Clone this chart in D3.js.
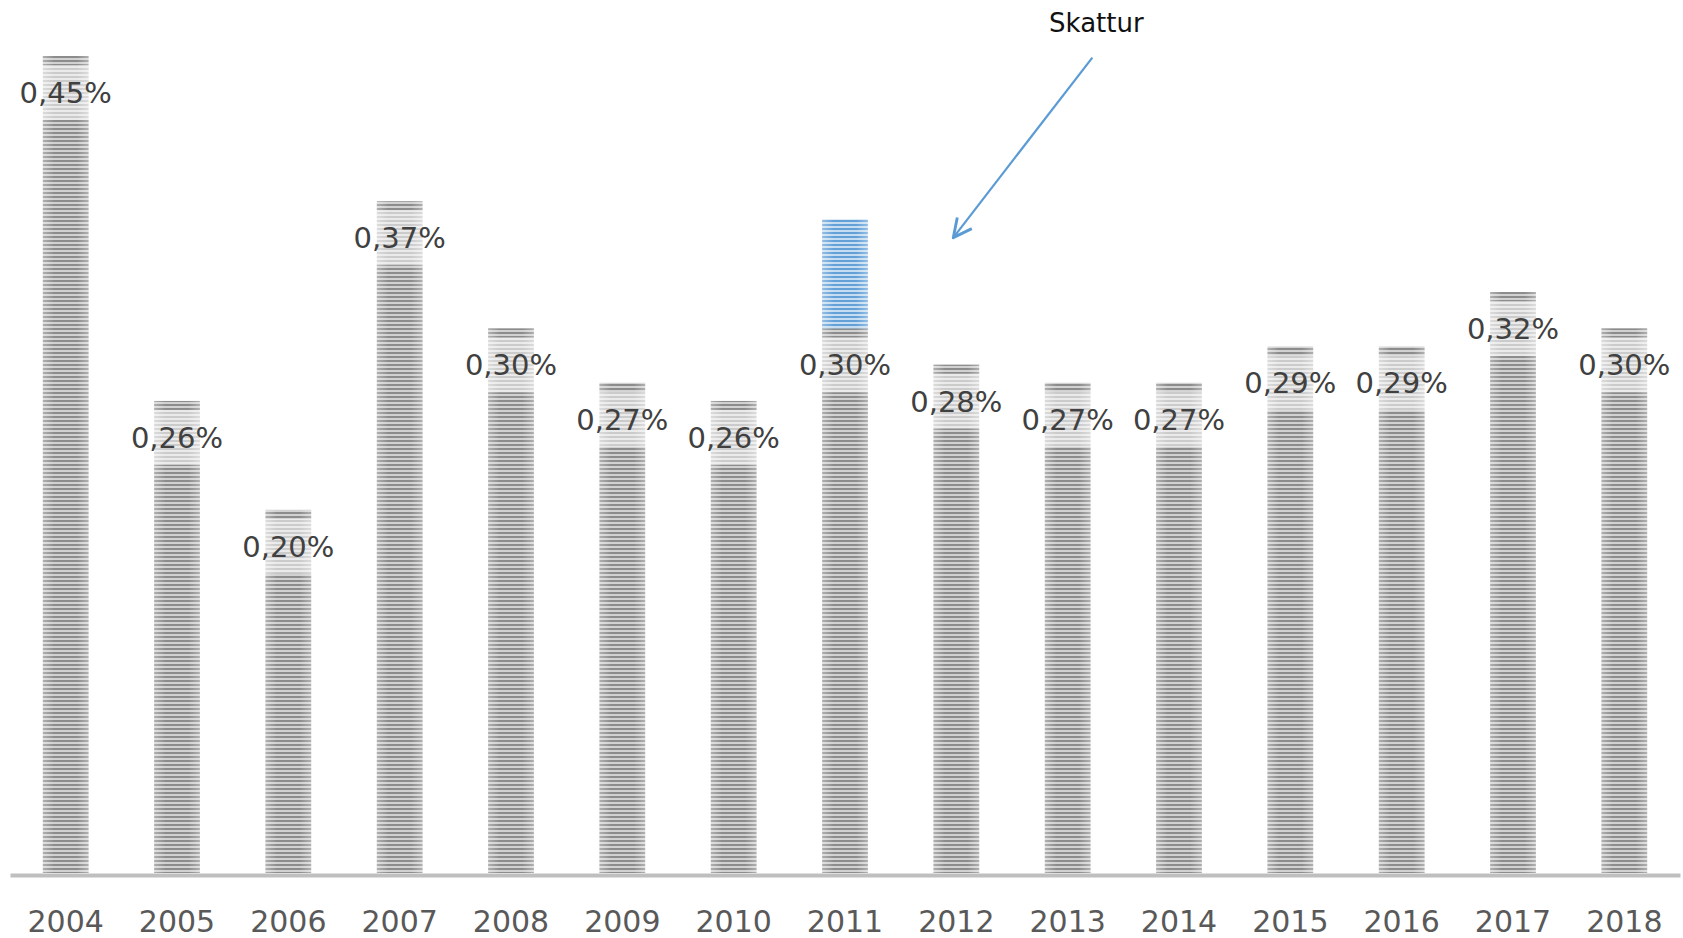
<!DOCTYPE html>
<html><head><meta charset="utf-8">
<script src="https://cdn.jsdelivr.net/npm/d3@7"></script>
<style>html,body{margin:0;padding:0;background:#fff;}svg{display:block;}</style>
</head><body>
<svg id="chart" width="1683" height="938"></svg>
<script>
const years = ["2004","2005","2006","2007","2008","2009","2010","2011","2012","2013","2014","2015","2016","2017","2018"];
const values = [0.45,0.26,0.20,0.37,0.30,0.27,0.26,0.30,0.28,0.27,0.27,0.29,0.29,0.32,0.30];
const taxExtra = [0,0,0,0,0,0,0,0.06,0,0,0,0,0,0,0];
const labels = ["0,45%","0,26%","0,20%","0,37%","0,30%","0,27%","0,26%","0,30%","0,28%","0,27%","0,27%","0,29%","0,29%","0,32%","0,30%"];
const annotationText = "Skattur";
const annotationYear = "2012";
const annotationValue = 0.35;

const svg = d3.select("#chart");
const font = "'DejaVu Sans', sans-serif";
const x = d3.scaleBand().domain(years).range([10, 1680]).paddingInner(0.59).paddingOuter(0.295);
const y = d3.scaleLinear().domain([0, 0.45]).range([873, 56]);

const defs = svg.append("defs");
function stripes(id, dark, light) {
  const p = defs.append("pattern").attr("id", id).attr("patternUnits", "userSpaceOnUse")
    .attr("width", 8).attr("height", 4);
  p.append("rect").attr("width", 8).attr("height", 4).attr("fill", light);
  p.append("rect").attr("width", 8).attr("height", 2).attr("fill", dark);
}
stripes("grayStripes", "#868686", "#cfcfcf");
stripes("blueStripes", "#5b9bd5", "#c3dbf0");
const g = defs.append("linearGradient").attr("id", "shade").attr("x1", 0).attr("x2", 1).attr("y1", 0).attr("y2", 0);
g.append("stop").attr("offset", "0%").attr("stop-color", "#fff").attr("stop-opacity", 0.35);
g.append("stop").attr("offset", "25%").attr("stop-color", "#fff").attr("stop-opacity", 0.05);
g.append("stop").attr("offset", "75%").attr("stop-color", "#fff").attr("stop-opacity", 0.05);
g.append("stop").attr("offset", "100%").attr("stop-color", "#fff").attr("stop-opacity", 0.35);
const mk = defs.append("marker").attr("id", "arrowHead").attr("viewBox", "0 0 12 12")
  .attr("refX", 11).attr("refY", 6).attr("markerWidth", 12).attr("markerHeight", 12)
  .attr("markerUnits", "userSpaceOnUse").attr("orient", "auto");
mk.append("path").attr("d", "M1,1 L11,6 L1,11").attr("fill", "none").attr("stroke", "#5b9bd5").attr("stroke-width", 1.6);
defs.select("#arrowHead").attr("markerWidth", 22).attr("markerHeight", 22).attr("viewBox", "0 0 12 12");

const data = years.map((yr, i) => ({yr, v: values[i], extra: taxExtra[i], label: labels[i]}));

// gray bars
const bars = svg.append("g");
bars.selectAll("rect.base").data(data).join("rect").attr("class", "base")
  .attr("x", d => x(d.yr)).attr("width", x.bandwidth())
  .attr("y", d => y(d.v)).attr("height", d => y(0) - y(d.v))
  .attr("fill", "url(#grayStripes)");
// blue extra (tax)
bars.selectAll("rect.extra").data(data.filter(d => d.extra > 0)).join("rect").attr("class", "extra")
  .attr("x", d => x(d.yr)).attr("width", x.bandwidth())
  .attr("y", d => y(d.v + d.extra)).attr("height", d => y(d.v) - y(d.v + d.extra))
  .attr("fill", "url(#blueStripes)");
// shading
bars.selectAll("rect.shade").data(data).join("rect").attr("class", "shade")
  .attr("x", d => x(d.yr)).attr("width", x.bandwidth())
  .attr("y", d => y(d.v + d.extra)).attr("height", d => y(0) - y(d.v + d.extra))
  .attr("fill", "url(#shade)");

// labels
const lab = svg.append("g");
lab.selectAll("rect").data(data).join("rect")
  .attr("x", d => x(d.yr) + x.bandwidth() / 2 - 48).attr("width", 96)
  .attr("y", d => y(d.v) + 9).attr("height", 55)
  .attr("fill", "#fff").attr("fill-opacity", 0.55);
lab.selectAll("text").data(data).join("text")
  .attr("x", d => x(d.yr) + x.bandwidth() / 2).attr("y", d => y(d.v) + 37)
  .attr("text-anchor", "middle").attr("dominant-baseline", "central")
  .attr("font-family", font).attr("font-size", 29).attr("fill", "#404040")
  .text(d => d.label);

// axis
const ax = svg.append("g").attr("transform", "translate(0,875)")
  .call(d3.axisBottom(x).tickSize(0).tickSizeOuter(0).tickPadding(36));
ax.select(".domain").attr("stroke", "#bfbfbf").attr("stroke-width", 4);
ax.selectAll("text").attr("font-family", font).attr("font-size", 30).attr("fill", "#595959");

// annotation
const ax2 = x(annotationYear) + x.bandwidth() / 2 - 3, ay2 = y(annotationValue);
svg.append("line").attr("x1", ax2 + 139).attr("y1", ay2 - 180).attr("x2", ax2).attr("y2", ay2)
  .attr("stroke", "#5b9bd5").attr("stroke-width", 2.2).attr("marker-end", "url(#arrowHead)");
svg.append("text").attr("x", ax2 + 143).attr("y", 32).attr("text-anchor", "middle")
  .attr("font-family", font).attr("font-size", 26).attr("fill", "#111").text(annotationText);
</script>
</body></html>
